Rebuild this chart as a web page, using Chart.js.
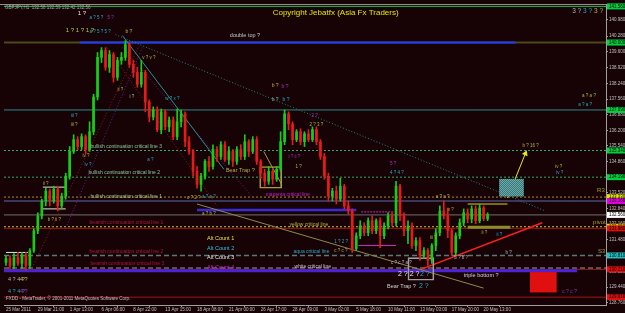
<!DOCTYPE html>
<html lang="en">
<head>
    <meta charset="UTF-8">
    <title>GBPJPY,H1</title>
    <script src="https://cdn.jsdelivr.net/npm/chart.js"></script>
    <style>
        html, body { margin: 0; padding: 0; background: #170306; }
        canvas { display: block; }
    </style>
</head>
<body>
<canvas id="gbpjpyChart" width="625" height="313"></canvas>
<script>
    // time axis labels, one every 8 bars
    const timeLabels = ['25 Mar 2011', '29 Mar 21:00', '1 Apr 13:00', '6 Apr 06:00', '8 Apr 22:00', '13 Apr 15:00',
        '18 Apr 08:00', '21 Apr 00:00', '26 Apr 17:00', '28 Apr 09:00', '3 May 02:00', '5 May 18:00',
        '10 May 11:00', '13 May 03:00', '17 May 20:00', '20 May 13:00'];

    const priceTicks = [140.980, 140.280, 139.600, 138.920, 138.240, 137.560, 136.880, 136.200, 135.540, 134.860,
        134.200, 133.520, 132.840, 132.160, 131.480, 130.800, 130.120, 129.440, 128.760];

    // candles
    const opens = [130.51, 130.68, 130.38, 130.72, 130.47, 130.81, 130.38, 131.02, 131.88, 132.52,
        133.16, 133.59, 133.16, 133.67, 132.95, 133.37, 134.23, 135.30, 135.81, 135.51,
        135.94, 135.38, 136.15, 137.65, 139.36, 139.65, 138.93, 139.48, 138.50, 139.23,
        139.36, 139.91, 139.06, 138.71, 138.20, 138.71, 137.43, 136.79, 137.09, 136.24,
        137.01, 136.36, 136.66, 135.94, 136.58, 136.92, 135.72, 135.30, 134.44, 133.88,
        134.23, 134.87, 134.65, 135.38, 135.08, 135.59, 134.95, 135.30, 134.87, 135.38,
        135.08, 135.72, 135.30, 135.81, 134.87, 134.36, 134.01, 134.44, 134.10, 134.53,
        135.72, 136.92, 136.49, 135.81, 136.15, 135.72, 136.06, 135.81, 136.24, 135.72,
        135.08, 134.23, 133.37, 133.59, 133.24, 133.80, 132.95, 132.73, 131.11, 131.66,
        132.09, 131.79, 132.31, 131.88, 132.31, 131.66, 132.09, 132.52, 132.22, 133.80,
        132.52, 131.88, 132.09, 131.24, 131.45, 130.81, 131.02, 130.60, 131.24, 131.79,
        132.73, 132.52, 131.88, 130.94, 131.66, 132.22, 132.65, 132.39, 132.82, 132.31,
        132.86, 132.39];
    const highs = [130.81, 130.81, 130.89, 130.94, 130.94, 130.94, 131.11, 131.96, 132.65, 133.24,
        133.71, 133.67, 133.80, 133.80, 133.50, 134.36, 135.51, 136.02, 135.94, 136.06,
        136.02, 136.58, 137.77, 139.57, 139.78, 139.78, 139.65, 139.57, 139.36, 139.57,
        140.08, 140.00, 139.23, 138.93, 139.23, 138.80, 137.52, 137.22, 137.22, 137.13,
        137.09, 136.79, 136.79, 137.13, 137.09, 137.01, 135.94, 135.38, 134.65, 134.36,
        134.95, 135.08, 135.59, 135.51, 135.72, 135.72, 135.51, 135.38, 135.51, 135.59,
        136.02, 135.81, 135.94, 135.94, 134.95, 134.53, 134.65, 134.53, 134.65, 136.15,
        137.09, 137.01, 136.58, 136.24, 136.28, 136.15, 136.24, 136.36, 136.36, 135.81,
        135.21, 134.36, 133.71, 133.80, 134.14, 133.88, 133.16, 132.82, 131.79, 132.31,
        132.22, 132.43, 132.52, 132.39, 132.43, 132.22, 132.65, 132.65, 134.01, 133.88,
        132.65, 132.31, 132.22, 131.58, 131.58, 131.15, 131.11, 131.32, 131.96, 132.95,
        133.16, 132.86, 131.96, 131.79, 132.39, 132.82, 132.82, 132.95, 132.95, 133.03,
        132.95, 132.65];
    const lows = [130.38, 130.25, 130.25, 130.38, 130.25, 130.17, 130.25, 130.94, 131.75, 132.39,
        132.95, 132.95, 133.07, 132.73, 132.82, 133.24, 134.10, 135.21, 135.38, 135.38,
        135.21, 135.30, 136.02, 137.52, 139.14, 138.80, 138.71, 138.29, 138.37, 139.06,
        139.23, 138.93, 138.50, 138.07, 138.07, 137.01, 136.58, 136.66, 136.15, 136.06,
        136.24, 136.15, 135.81, 135.81, 136.36, 135.51, 135.17, 134.23, 133.71, 133.59,
        134.10, 134.44, 134.53, 134.87, 134.95, 134.87, 134.74, 134.65, 134.74, 134.95,
        134.95, 135.08, 135.21, 134.74, 134.14, 133.80, 133.88, 133.88, 134.01, 134.44,
        135.59, 136.24, 135.59, 135.72, 135.59, 135.51, 135.72, 135.72, 135.59, 134.95,
        134.10, 133.16, 133.16, 133.03, 133.16, 132.82, 132.60, 130.94, 131.02, 131.53,
        131.66, 131.66, 131.75, 131.75, 131.15, 131.53, 131.96, 132.09, 132.09, 132.31,
        131.66, 131.32, 131.11, 131.02, 130.60, 130.68, 130.38, 130.47, 131.02, 131.66,
        132.39, 131.58, 130.81, 130.81, 131.53, 132.09, 132.22, 132.22, 132.18, 132.22,
        132.31, 132.31];
    const closes = [130.68, 130.38, 130.72, 130.47, 130.81, 130.38, 131.02, 131.88, 132.52, 133.16,
        133.59, 133.16, 133.67, 132.95, 133.37, 134.23, 135.30, 135.81, 135.51, 135.94,
        135.38, 136.15, 137.65, 139.36, 139.65, 138.93, 139.48, 138.50, 139.23, 139.36,
        139.91, 139.06, 138.71, 138.20, 138.71, 137.43, 136.79, 137.09, 136.24, 137.01,
        136.36, 136.66, 135.94, 136.58, 136.92, 135.72, 135.30, 134.44, 133.88, 134.23,
        134.87, 134.65, 135.38, 135.08, 135.59, 134.95, 135.30, 134.87, 135.38, 135.08,
        135.72, 135.30, 135.81, 134.87, 134.36, 134.01, 134.44, 134.10, 134.53, 135.72,
        136.92, 136.49, 135.81, 136.15, 135.72, 136.06, 135.81, 136.24, 135.72, 135.08,
        134.23, 133.37, 133.59, 133.24, 133.80, 132.95, 132.73, 131.11, 131.66, 132.09,
        131.79, 132.31, 131.88, 132.31, 131.66, 132.09, 132.52, 132.22, 133.80, 132.52,
        131.88, 132.09, 131.24, 131.45, 130.81, 131.02, 130.60, 131.24, 131.79, 132.73,
        132.52, 131.88, 130.94, 131.66, 132.22, 132.65, 132.39, 132.82, 132.31, 132.86,
        132.39, 132.56];

    // horizontal levels (price)
    const levelPrices = [141.56, 140.00, 137.09, 135.34, 134.19, 133.33, 133.16, 132.56, 132.05, 131.98,
        130.81, 130.27, 130.21, 129.01];
    // short horizontal segments: [from bar, to bar, price]
    const segments = [[18.5, 128, 140.00], [48, 88, 132.77], [-0.5, 143.5, 130.15], [0, 5.5, 130.94],
        [9.25, 15, 133.76], [9.25, 15, 132.82], [89.25, 97.5, 132.69], [88.5, 98, 131.24],
        [116, 126, 133.03], [116, 126.75, 132.03]];
    // trend lines: [bar, price, bar, price]
    const trendLines = [[27.5, 140.34, 135.5, 132.73], [29.25, 140.30, 54.75, 134.53], [48, 133.03, 120, 129.40],
        [104.25, 130.21, 134.75, 132.22], [6.25, 130.17, 33.25, 139.78], [14.75, 131.88, 34.25, 139.78],
        [25.5, 139.78, 53, 132.95], [29.25, 139.78, 61.75, 133.37], [64.75, 135.30, 69.25, 133.88]];
    const arrowLine = [126, 133.29, 130.5, 135.21];
    // rectangles: [centre bar, low, high]
    const boxes = [[127, 133.37, 134.10], [135, 129.23, 130.08], [66.5, 133.71, 134.65], [104.25, 129.74, 130.72]];

    const olive = '#b4b43c', teal = '#28aabe', purple = '#a82cc8', gray = '#b4b4b4', white = '#e6e6e6';
    const green = '#88c898', crimson = '#b0163e', fontFam = '"Liberation Sans", Arial, sans-serif';

    const notes = [
        {t: 'GBPJPY,H1  132.58 132.59 132.42 132.56', x: -0.25, y: 141.49, c: '#a8a8a8', s: 4.5},
        {t: 'Copyright Jebatfx (Asia Fx Traders)', x: 67, y: 141.28, c: '#e6e600', s: 8},
        {t: '1 ?', x: 18, y: 141.24, c: white, s: 6},
        {t: 'a ? 5 ?', x: 21, y: 141.07, c: teal, s: 4.5},
        {t: '5 ?', x: 25.5, y: 141.07, c: purple, s: 4.5},
        {t: '1 ? 1 ? 1 ?', x: 15, y: 140.51, c: '#b4c83c', s: 6},
        {t: 'a ? 5 ? 5 ?', x: 21, y: 140.47, c: teal, s: 4.5},
        {t: 'b ?', x: 30, y: 140.47, c: olive, s: 5},
        {t: 'double top ?', x: 56.25, y: 140.30, c: '#c8c8c8', s: 5.5},
        {t: 'b ?', x: 66.75, y: 138.12, c: olive, s: 5},
        {t: 'b ?', x: 69.25, y: 138.10, c: purple, s: 5},
        {t: 'b ?', x: 66.75, y: 137.52, c: '#8cb4b4', s: 5},
        {t: 'b ?', x: 69.5, y: 137.52, c: teal, s: 5},
        {t: '3 ?', x: 142.25, y: 141.36, c: gray, s: 6.5},
        {t: '3 ?', x: 145, y: 141.36, c: teal, s: 6.5},
        {t: '3 ?', x: 147.75, y: 141.36, c: olive, s: 6.5},
        {t: 'v ? v ?', x: 34.25, y: 139.36, c: olive, s: 4.5},
        {t: 'ii ?', x: 28, y: 137.95, c: olive, s: 4.5},
        {t: 'i ?', x: 31, y: 137.65, c: gray, s: 4.5},
        {t: 'w ? x ?', x: 40, y: 137.56, c: teal, s: 4.5},
        {t: 'iii ?', x: 16.25, y: 136.83, c: teal, s: 4.5},
        {t: 'iii ?', x: 16.25, y: 136.45, c: olive, s: 4.5},
        {t: 'bullish continuation critical line 3', x: 21.25, y: 135.51, c: green, s: 5},
        {t: 'iv ?', x: 19.25, y: 135.13, c: olive, s: 4.5},
        {t: 'iv ?', x: 19.75, y: 134.74, c: teal, s: 4.5},
        {t: 'a ?', x: 35.5, y: 134.95, c: teal, s: 4.5},
        {t: 'bullish continuation critical line 2', x: 20.75, y: 134.40, c: green, s: 5},
        {t: 'ii ?', x: 9.25, y: 133.92, c: olive, s: 4.5},
        {t: 'bullish continuation critical line 1', x: 21.25, y: 133.33, c: '#a8c888', s: 5},
        {t: 'c ? 2 ?', x: 45.5, y: 133.29, c: olive, s: 4.5},
        {t: 'Bear Trap ?', x: 55.25, y: 134.48, c: olive, s: 5.5},
        {t: 'a ? a ?', x: 49.25, y: 133.33, c: teal, s: 4.5},
        {t: 'a ? b ?', x: 49.25, y: 132.60, c: olive, s: 4.5},
        {t: 'magenta critical line', x: 65.25, y: 133.42, c: '#c81ed2', s: 5},
        {t: '2 ?', x: 76.75, y: 136.83, c: purple, s: 4.5},
        {t: '2 ? 3 ?', x: 76.25, y: 136.45, c: olive, s: 4.5},
        {t: 'i ? ii ?', x: 71, y: 135.08, c: purple, s: 4.5},
        {t: '1 ?', x: 72.75, y: 134.65, c: olive, s: 4.5},
        {t: '5 ?', x: 96.5, y: 134.78, c: purple, s: 4.5},
        {t: '4 ? 4 ?', x: 96.5, y: 134.40, c: teal, s: 4.5},
        {t: 'b ? ii ?', x: 10.5, y: 132.35, c: olive, s: 4.5},
        {t: 'bearish continuation critical line 1', x: 21, y: 132.22, c: crimson, s: 5},
        {t: 'yellow critical line', x: 71.25, y: 132.13, c: olive, s: 5},
        {t: 'Alt Count 1', x: 50.5, y: 131.53, c: '#e6e63c', s: 5.5},
        {t: 'Alt Count 2', x: 50.5, y: 131.11, c: '#28c8dc', s: 5.5},
        {t: 'Alt Count 3', x: 50.5, y: 130.72, c: '#e6e6e6', s: 5.5},
        {t: 'Alt Count 4', x: 50.5, y: 130.30, c: '#c828c8', s: 5.5},
        {t: '1 ? 2 ?', x: 82.5, y: 131.41, c: teal, s: 4.5},
        {t: 'c ? c ?', x: 82.5, y: 131.02, c: olive, s: 4.5},
        {t: 'bearish continuation critical line 2', x: 21, y: 130.98, c: crimson, s: 5},
        {t: 'aqua critical line', x: 72.25, y: 130.98, c: '#28aac8', s: 5},
        {t: 'bearish continuation critical line 3', x: 21.25, y: 130.47, c: crimson, s: 5},
        {t: 'white critical line', x: 72.5, y: 130.34, c: '#c8c8c8', s: 5},
        {t: 'c ? c ? a ?', x: 96.75, y: 130.51, c: gray, s: 4.5},
        {t: '2 ? 2 ?', x: 98.5, y: 130.00, c: white, s: 7},
        {t: '2 ?', x: 104, y: 130.00, c: teal, s: 7},
        {t: 'Bear Trap ?', x: 95.75, y: 129.48, c: '#d2d2d2', s: 5.5},
        {t: '2 ?', x: 103.75, y: 129.48, c: teal, s: 7},
        {t: 'triple bottom ?', x: 115, y: 129.95, c: '#d2d2d2', s: 5.5},
        {t: 'c ? c ?', x: 139.75, y: 129.27, c: '#9030c0', s: 5},
        {t: 'R3', x: 148.5, y: 133.63, c: '#a0a028', s: 6},
        {t: 'pivot', x: 147.5, y: 132.26, c: '#a0a028', s: 6},
        {t: 'S3', x: 148.75, y: 130.98, c: '#a0a028', s: 6},
        {t: '4 ? 4 ?', x: 0.5, y: 129.78, c: gray, s: 5.5},
        {t: '4 ?', x: 3.5, y: 129.78, c: '#c8c83c', s: 5.5},
        {t: '4 ? 4 ?', x: 0.5, y: 129.27, c: teal, s: 5.5},
        {t: '4 ?', x: 3.5, y: 129.27, c: purple, s: 5.5},
        {t: 'FXDD - MetaTrader, \u00a9 2001-2011 MetaQuotes Software Corp.', x: 0, y: 128.93, c: '#c0c0c0', s: 4.5},
        {t: 'a ? a ?', x: 144.75, y: 137.69, c: olive, s: 4.5},
        {t: 'a ? a ?', x: 143.75, y: 137.30, c: teal, s: 4.5},
        {t: 'b ? 16 ?', x: 129.75, y: 135.55, c: olive, s: 4.5},
        {t: 'iv ?', x: 138, y: 134.65, c: olive, s: 4.5},
        {t: 'iv ?', x: 138.25, y: 134.36, c: teal, s: 4.5},
        {t: 'a ? a ?', x: 108, y: 133.33, c: olive, s: 4.5},
        {t: 'v ?', x: 111, y: 132.77, c: olive, s: 4.5},
        {t: 'iii ?', x: 106.5, y: 131.58, c: olive, s: 4.5},
        {t: 'ii ?', x: 119.5, y: 131.79, c: olive, s: 4.5},
        {t: 'ii ?', x: 123.25, y: 131.71, c: teal, s: 4.5},
        {t: 'b ?', x: 125.5, y: 130.94, c: gray, s: 4.5},
        {t: 'S ? b ?', x: 112.5, y: 130.72, c: gray, s: 4.5}
    ];

    // styles for each level: colour, width, dash, right-axis box colour
    const levelStyle = [
        ['#20c040', 1, [], '#00d040'], ['#4a4a1a', 2, [], '#00d040'], ['#2a8a8a', 1, [], '#00d040'],
        ['#3aa86a', 1, [2, 2], '#00d040'], ['#3aa86a', 1, [2, 2], '#00d040'], ['#b08a2a', 1, [2, 2], '#e0e000'],
        ['#5a6ab0', 1, [], '#e000e0'], ['#707070', 1, [], '#ffffff'], ['#c8c832', 1, [2, 2], '#e0e000'],
        ['#a01818', 1, [], '#e01010'], ['#5a7a7a', 1.5, [5, 3], '#20c0c0'], ['#6a6a6a', 1.5, [5, 3], null],
        ['#a01818', 1, [], '#e01010'], ['#a01818', 1, [], '#e01010']
    ];
    const segStyle = [['#1e3cff', 2], ['#3a2ad8', 2.5], ['#4a22d8', 3], ['#c8f0f0', 1], ['#e6e6e6', 1],
        ['#e6e6e6', 1], ['#c828c8', 1, [2, 1]], ['#c828c8', 1], ['#e0d020', 1], ['#8c8c28', 3]];
    const trendStyle = [['#2a7f7f', 1, [1, 2]], ['#2f8f8f', 1, []], ['#8a8a4a', 1, []], ['#ff2020', 1.5, []],
        ['#8b1a1a', 1, [1, 2]], ['#6a1a9a', 1, [1, 2]], ['#8b1a1a', 1, [1, 2]], ['#6a1a9a', 1, [1, 2]],
        ['#a0a040', 1, []]];

    function line(x0, y0, x1, y1, color, width, dash, order) {
        return {
            type: 'line', data: [{x: x0, y: y0}, {x: x1, y: y1}],
            borderColor: color, borderWidth: width, borderDash: dash || [],
            pointRadius: 0, fill: false, tension: 0, order: order
        };
    }

    const canvas = document.getElementById('gbpjpyChart');
    const pc = document.createElement('canvas');
    pc.width = 2; pc.height = 2;
    const pctx = pc.getContext('2d');
    pctx.fillStyle = '#2a7e7e'; pctx.fillRect(0, 0, 2, 2);
    pctx.fillStyle = '#7aa4a4'; pctx.fillRect(0, 0, 1, 1); pctx.fillRect(1, 1, 1, 1);
    const hatch = canvas.getContext('2d').createPattern(pc, 'repeat');

    const idx = opens.map((_, i) => i);
    const candleColor = idx.map(i => closes[i] >= opens[i] ? '#14d014' : '#e81a1a');

    const datasets = [];
    datasets.push({type: 'bar', data: idx.map(i => ({x: i, y: [lows[i], highs[i]]})),
        backgroundColor: candleColor, barThickness: 1, grouped: false, order: 0});
    datasets.push({type: 'bar', data: idx.map(i => ({x: i, y: [opens[i], closes[i]]})),
        backgroundColor: candleColor, barThickness: 2, minBarLength: 1, grouped: false, order: 0});

    const boxStyle = [[hatch, null], ['#e01010', null], ['rgba(0,0,0,0)', '#a0a040'], ['rgba(0,0,0,0)', '#a0a0a0']];
    boxes.forEach((b, k) => {
        datasets.push({type: 'bar', data: [{x: b[0], y: [b[1], b[2]]}],
            backgroundColor: boxStyle[k][0], borderColor: boxStyle[k][1] || 'rgba(0,0,0,0)',
            borderWidth: boxStyle[k][1] ? 1 : 0, borderSkipped: false,
            barThickness: k === 0 ? 24 : (k === 2 ? 22 : 26), grouped: false, order: 1});
    });

    trendLines.forEach((t, k) => {
        datasets.push(line(t[0], t[1], t[2], t[3], trendStyle[k][0], trendStyle[k][1], trendStyle[k][2], 2));
    });
    datasets.push({
        type: 'line', data: [{x: arrowLine[0], y: arrowLine[1]}, {x: arrowLine[2], y: arrowLine[3]}],
        borderColor: '#e8e820', borderWidth: 1, pointRadius: [0, 3.5], pointStyle: 'triangle',
        pointRotation: 22, pointBackgroundColor: '#e8e820', pointBorderWidth: 0, order: 1
    });

    segments.forEach((s, k) => {
        datasets.push(line(s[0], s[2], s[1], s[2], segStyle[k][0], segStyle[k][1], segStyle[k][2], 3));
    });
    levelPrices.forEach((p, k) => {
        datasets.push(line(-0.5, p, 150.75, p, levelStyle[k][0], levelStyle[k][1], levelStyle[k][2], 4));
    });

    const bgPlugin = {
        id: 'bg',
        beforeDraw(chart) {
            const c = chart.ctx;
            c.save();
            c.fillStyle = '#170306';
            c.fillRect(0, 0, chart.width, chart.height);
            c.restore();
        }
    };

    const textPlugin = {
        id: 'notes',
        afterDatasetsDraw(chart) {
            const c = chart.ctx, xs = chart.scales.x, ys = chart.scales.y;
            c.save();
            c.textBaseline = 'middle';
            c.textAlign = 'left';
            notes.forEach(n => {
                c.font = n.s + 'px ' + fontFam;
                c.fillStyle = n.c;
                c.fillText(n.t, xs.getPixelForValue(n.x), ys.getPixelForValue(n.y));
            });
            c.restore();
        }
    };

    const priceBoxPlugin = {
        id: 'priceBoxes',
        afterDraw(chart) {
            const c = chart.ctx, ys = chart.scales.y, area = chart.chartArea;
            c.save();
            // top border of the chart window
            c.strokeStyle = '#909090';
            c.lineWidth = 1;
            c.beginPath();
            c.moveTo(0, area.top + 0.5);
            c.lineTo(area.right, area.top + 0.5);
            c.stroke();
            c.font = '4.5px ' + fontFam;
            c.textBaseline = 'middle';
            levelPrices.forEach((p, k) => {
                const col = levelStyle[k][3];
                if (!col) return;
                const py = ys.getPixelForValue(p);
                c.fillStyle = col;
                c.fillRect(area.right + 1, py - 3, chart.width - area.right - 1, 6);
                c.fillStyle = '#000000';
                c.fillText(p.toFixed(3), area.right + 3, py);
            });
            c.restore();
        }
    };

    new Chart(canvas, {
        type: 'bar',
        data: {datasets: datasets},
        options: {
            responsive: false,
            animation: false,
            events: [],
            layout: {padding: {left: 1, top: 1, right: 0, bottom: 0}},
            plugins: {legend: {display: false}, tooltip: {enabled: false}},
            scales: {
                x: {
                    type: 'linear', min: -0.5, max: 150.75, offset: false,
                    grid: {display: true, drawOnChartArea: false, tickLength: 2, color: '#a0a0a0'},
                    border: {display: true, color: '#a0a0a0'},
                    afterBuildTicks: scale => { scale.ticks = timeLabels.map((_, k) => ({value: k * 8})); },
                    afterFit: scale => { scale.height = 8; },
                    ticks: {
                        autoSkip: false, maxRotation: 0, align: 'start', padding: 0,
                        color: '#c0c0c0', font: {size: 4.5, family: fontFam},
                        callback: v => timeLabels[Math.round(v / 8)]
                    }
                },
                y: {
                    position: 'right', min: 128.672, max: 141.663,
                    grid: {display: true, drawOnChartArea: false, tickLength: 2, color: '#a0a0a0'},
                    border: {display: true, color: '#a0a0a0'},
                    afterBuildTicks: scale => { scale.ticks = priceTicks.map(v => ({value: v})); },
                    afterFit: scale => { scale.width = 19; },
                    ticks: {
                        padding: 1, color: '#c0c0c0', font: {size: 4.5, family: fontFam},
                        callback: v => v.toFixed(3)
                    }
                }
            }
        },
        plugins: [bgPlugin, textPlugin, priceBoxPlugin]
    });
</script>
</body>
</html>
